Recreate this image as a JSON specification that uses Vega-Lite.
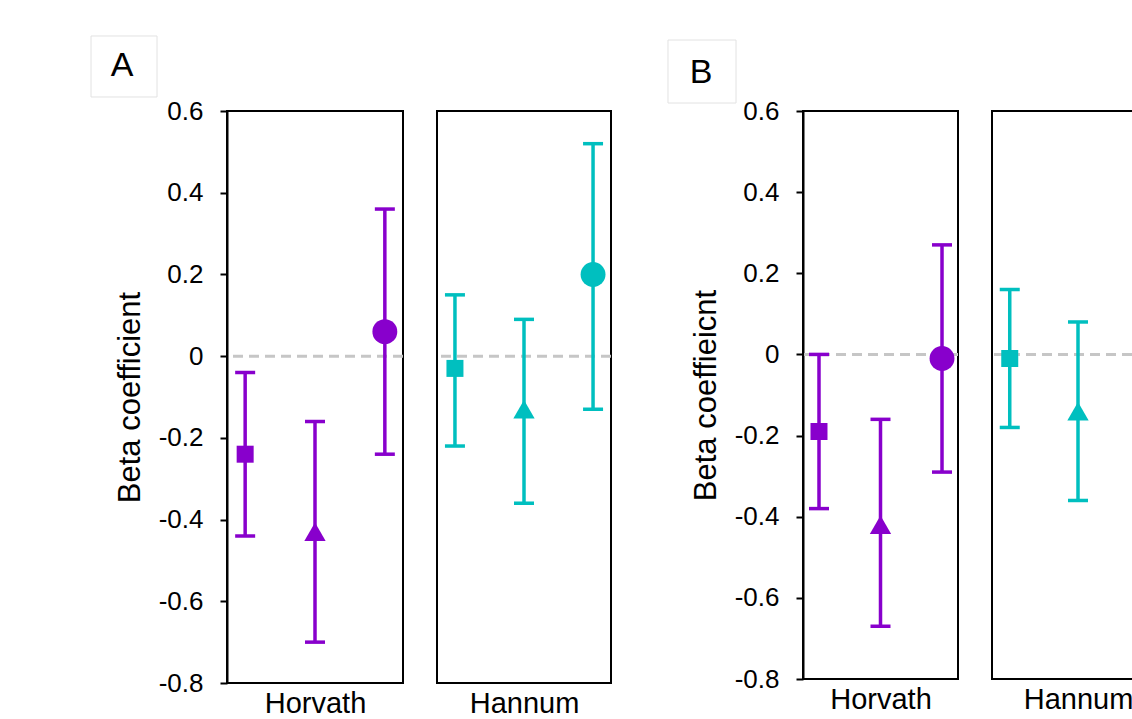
{
  "$schema": "https://vega.github.io/schema/vega-lite/v6.json",
  "background": "white",
  "padding": {"left": 89, "top": 34, "right": 0, "bottom": 0},
  "bounds": "flush",
  "spacing": 34,
  "datasets": {
    "A": [
      {"clock": "Horvath", "pos": 1, "shp": "sq", "est": -0.24, "lo": -0.44, "hi": -0.04},
      {"clock": "Horvath", "pos": 2, "shp": "tri", "est": -0.43, "lo": -0.70, "hi": -0.16},
      {"clock": "Horvath", "pos": 3, "shp": "circ", "est": 0.06, "lo": -0.24, "hi": 0.36},
      {"clock": "Hannum", "pos": 1, "shp": "sq", "est": -0.03, "lo": -0.22, "hi": 0.15},
      {"clock": "Hannum", "pos": 2, "shp": "tri", "est": -0.13, "lo": -0.36, "hi": 0.09},
      {"clock": "Hannum", "pos": 3, "shp": "circ", "est": 0.20, "lo": -0.13, "hi": 0.52}
    ],
    "B": [
      {"clock": "Horvath", "pos": 1, "shp": "sq", "est": -0.19, "lo": -0.38, "hi": 0.0},
      {"clock": "Horvath", "pos": 2, "shp": "tri", "est": -0.42, "lo": -0.67, "hi": -0.16},
      {"clock": "Horvath", "pos": 3, "shp": "circ", "est": -0.01, "lo": -0.29, "hi": 0.27},
      {"clock": "Hannum", "pos": 1, "shp": "sq", "est": -0.01, "lo": -0.18, "hi": 0.16},
      {"clock": "Hannum", "pos": 2, "shp": "tri", "est": -0.14, "lo": -0.36, "hi": 0.08}
    ],
    "one": [{}]
  },
  "hconcat": [
    {
      "width": 176, "height": 572,
      "layer": [
        {"data": {"name": "one"}, "mark": {"type": "rule", "color": "#c6c6c6", "strokeWidth": 3, "strokeDash": [10, 6]},
         "encoding": {"y": {"datum": 0, "type": "quantitative", "scale": {"domain": [-0.8, 0.6], "nice": false, "zero": false}, "title": "Beta coefficient", "axis": {"values": [-0.8, -0.6, -0.4, -0.2, 0, 0.2, 0.4, 0.6], "labelExpr": "toString(datum.value)"}}}},
        {"data": {"name": "A"}, "transform": [{"filter": "datum.clock == 'Horvath'"}],
         "layer": [
           {"mark": {"type": "rule", "color": "#8800CC", "strokeWidth": 3.5},
            "encoding": {"x": {"field": "pos", "type": "quantitative", "scale": {"domain": [0.74, 3.26], "nice": false, "zero": false}, "title": "Horvath"},
                         "y": {"field": "lo", "type": "quantitative", "title": "Beta coefficient", "axis": {"values": [-0.8, -0.6, -0.4, -0.2, 0, 0.2, 0.4, 0.6], "labelExpr": "toString(datum.value)"}}, "y2": {"field": "hi"}}},
           {"mark": {"type": "tick", "orient": "horizontal", "color": "#8800CC", "size": 20, "thickness": 3.5, "opacity": 1},
            "encoding": {"x": {"field": "pos", "type": "quantitative", "title": "Horvath"}, "y": {"field": "lo", "type": "quantitative", "title": "Beta coefficient"}}},
           {"mark": {"type": "tick", "orient": "horizontal", "color": "#8800CC", "size": 20, "thickness": 3.5, "opacity": 1},
            "encoding": {"x": {"field": "pos", "type": "quantitative", "title": "Horvath"}, "y": {"field": "hi", "type": "quantitative", "title": "Beta coefficient"}}},
           {"mark": {"type": "point", "filled": true, "opacity": 1, "color": "#8800CC"},
            "encoding": {"x": {"field": "pos", "type": "quantitative", "title": "Horvath"}, "y": {"field": "est", "type": "quantitative", "title": "Beta coefficient"},
                         "shape": {"field": "shp", "type": "nominal", "scale": {"domain": ["sq", "tri", "circ"], "range": ["square", "triangle-up", "circle"]}, "legend": null},
                         "size": {"field": "shp", "type": "ordinal", "scale": {"domain": ["sq", "tri", "circ"], "range": [289, 620, 484]}, "legend": null}}}
         ]},
        {"data": {"name": "one"}, "mark": {"type": "rect", "fill": "white", "stroke": "#e2e2e2", "strokeWidth": 1, "clip": false},
         "encoding": {"x": {"datum": -1.207, "type": "quantitative", "title": "Horvath"}, "x2": {"datum": -0.262},
                      "y": {"datum": 0.6343, "type": "quantitative", "title": "Beta coefficient"}, "y2": {"datum": 0.7836}}},
        {"data": {"name": "one"}, "mark": {"type": "text", "fontSize": 34, "color": "black", "align": "center", "baseline": "middle", "clip": false},
         "encoding": {"x": {"datum": -0.763, "type": "quantitative", "title": "Horvath"}, "y": {"datum": 0.7101, "type": "quantitative", "title": "Beta coefficient"}, "text": {"value": "A"}}}
      ]
    },
    {
      "width": 174, "height": 572,
      "layer": [
        {"data": {"name": "one"}, "mark": {"type": "rule", "color": "#c6c6c6", "strokeWidth": 3, "strokeDash": [10, 6]},
         "encoding": {"y": {"datum": 0, "type": "quantitative", "scale": {"domain": [-0.8, 0.6], "nice": false, "zero": false}, "axis": null}}},
        {"data": {"name": "A"}, "transform": [{"filter": "datum.clock == 'Hannum'"}],
         "layer": [
           {"mark": {"type": "rule", "color": "#00BFBF", "strokeWidth": 3.5},
            "encoding": {"x": {"field": "pos", "type": "quantitative", "scale": {"domain": [0.74, 3.26], "nice": false, "zero": false}, "title": "Hannum"},
                         "y": {"field": "lo", "type": "quantitative", "axis": null}, "y2": {"field": "hi"}}},
           {"mark": {"type": "tick", "orient": "horizontal", "color": "#00BFBF", "size": 20, "thickness": 3.5, "opacity": 1},
            "encoding": {"x": {"field": "pos", "type": "quantitative", "title": "Hannum"}, "y": {"field": "lo", "type": "quantitative", "axis": null}}},
           {"mark": {"type": "tick", "orient": "horizontal", "color": "#00BFBF", "size": 20, "thickness": 3.5, "opacity": 1},
            "encoding": {"x": {"field": "pos", "type": "quantitative", "title": "Hannum"}, "y": {"field": "hi", "type": "quantitative", "axis": null}}},
           {"mark": {"type": "point", "filled": true, "opacity": 1, "color": "#00BFBF"},
            "encoding": {"x": {"field": "pos", "type": "quantitative", "title": "Hannum"}, "y": {"field": "est", "type": "quantitative", "axis": null},
                         "shape": {"field": "shp", "type": "nominal", "scale": {"domain": ["sq", "tri", "circ"], "range": ["square", "triangle-up", "circle"]}, "legend": null},
                         "size": {"field": "shp", "type": "ordinal", "scale": {"domain": ["sq", "tri", "circ"], "range": [289, 620, 484]}, "legend": null}}}
         ]}
      ]
    },
    {
      "width": 124, "height": 572, "view": {"stroke": null},
      "data": {"values": []},
      "mark": "point"
    },
    {
      "width": 155, "height": 568,
      "layer": [
        {"data": {"name": "one"}, "mark": {"type": "rule", "color": "#c6c6c6", "strokeWidth": 3, "strokeDash": [10, 6]},
         "encoding": {"y": {"datum": 0, "type": "quantitative", "scale": {"domain": [-0.8, 0.6], "nice": false, "zero": false}, "title": "Beta coeffieicnt", "axis": {"values": [-0.8, -0.6, -0.4, -0.2, 0, 0.2, 0.4, 0.6], "labelExpr": "toString(datum.value)"}}}},
        {"data": {"name": "B"}, "transform": [{"filter": "datum.clock == 'Horvath'"}],
         "layer": [
           {"mark": {"type": "rule", "color": "#8800CC", "strokeWidth": 3.5},
            "encoding": {"x": {"field": "pos", "type": "quantitative", "scale": {"domain": [0.74, 3.26], "nice": false, "zero": false}, "title": "Horvath"},
                         "y": {"field": "lo", "type": "quantitative", "title": "Beta coeffieicnt", "axis": {"values": [-0.8, -0.6, -0.4, -0.2, 0, 0.2, 0.4, 0.6], "labelExpr": "toString(datum.value)"}}, "y2": {"field": "hi"}}},
           {"mark": {"type": "tick", "orient": "horizontal", "color": "#8800CC", "size": 20, "thickness": 3.5, "opacity": 1},
            "encoding": {"x": {"field": "pos", "type": "quantitative", "title": "Horvath"}, "y": {"field": "lo", "type": "quantitative", "title": "Beta coeffieicnt"}}},
           {"mark": {"type": "tick", "orient": "horizontal", "color": "#8800CC", "size": 20, "thickness": 3.5, "opacity": 1},
            "encoding": {"x": {"field": "pos", "type": "quantitative", "title": "Horvath"}, "y": {"field": "hi", "type": "quantitative", "title": "Beta coeffieicnt"}}},
           {"mark": {"type": "point", "filled": true, "opacity": 1, "color": "#8800CC"},
            "encoding": {"x": {"field": "pos", "type": "quantitative", "title": "Horvath"}, "y": {"field": "est", "type": "quantitative", "title": "Beta coeffieicnt"},
                         "shape": {"field": "shp", "type": "nominal", "scale": {"domain": ["sq", "tri", "circ"], "range": ["square", "triangle-up", "circle"]}, "legend": null},
                         "size": {"field": "shp", "type": "ordinal", "scale": {"domain": ["sq", "tri", "circ"], "range": [289, 620, 484]}, "legend": null}}}
         ]},
        {"data": {"name": "one"}, "mark": {"type": "rect", "fill": "white", "stroke": "#e2e2e2", "strokeWidth": 1, "clip": false},
         "encoding": {"x": {"datum": -1.455, "type": "quantitative", "title": "Horvath"}, "x2": {"datum": -0.349},
                      "y": {"datum": 0.6197, "type": "quantitative", "title": "Beta coeffieicnt"}, "y2": {"datum": 0.775}}},
        {"data": {"name": "one"}, "mark": {"type": "text", "fontSize": 34, "color": "black", "align": "center", "baseline": "middle", "clip": false},
         "encoding": {"x": {"datum": -0.918, "type": "quantitative", "title": "Horvath"}, "y": {"datum": 0.6937, "type": "quantitative", "title": "Beta coeffieicnt"}, "text": {"value": "B"}}}
      ]
    },
    {
      "width": 172, "height": 568,
      "layer": [
        {"data": {"name": "one"}, "mark": {"type": "rule", "color": "#c6c6c6", "strokeWidth": 3, "strokeDash": [10, 6]},
         "encoding": {"y": {"datum": 0, "type": "quantitative", "scale": {"domain": [-0.8, 0.6], "nice": false, "zero": false}, "axis": null}}},
        {"data": {"name": "B"}, "transform": [{"filter": "datum.clock == 'Hannum'"}],
         "layer": [
           {"mark": {"type": "rule", "color": "#00BFBF", "strokeWidth": 3.5},
            "encoding": {"x": {"field": "pos", "type": "quantitative", "scale": {"domain": [0.74, 3.26], "nice": false, "zero": false}, "title": "Hannum"},
                         "y": {"field": "lo", "type": "quantitative", "axis": null}, "y2": {"field": "hi"}}},
           {"mark": {"type": "tick", "orient": "horizontal", "color": "#00BFBF", "size": 20, "thickness": 3.5, "opacity": 1},
            "encoding": {"x": {"field": "pos", "type": "quantitative", "title": "Hannum"}, "y": {"field": "lo", "type": "quantitative", "axis": null}}},
           {"mark": {"type": "tick", "orient": "horizontal", "color": "#00BFBF", "size": 20, "thickness": 3.5, "opacity": 1},
            "encoding": {"x": {"field": "pos", "type": "quantitative", "title": "Hannum"}, "y": {"field": "hi", "type": "quantitative", "axis": null}}},
           {"mark": {"type": "point", "filled": true, "opacity": 1, "color": "#00BFBF"},
            "encoding": {"x": {"field": "pos", "type": "quantitative", "title": "Hannum"}, "y": {"field": "est", "type": "quantitative", "axis": null},
                         "shape": {"field": "shp", "type": "nominal", "scale": {"domain": ["sq", "tri", "circ"], "range": ["square", "triangle-up", "circle"]}, "legend": null},
                         "size": {"field": "shp", "type": "ordinal", "scale": {"domain": ["sq", "tri", "circ"], "range": [289, 620, 484]}, "legend": null}}}
         ]}
      ]
    }
  ],
  "config": {
    "font": "Liberation Sans",
    "view": {"stroke": "black", "strokeWidth": 2},
    "axisX": {"labels": false, "ticks": false, "domain": false, "grid": false, "titleFontSize": 29, "titleFontWeight": "normal", "titleColor": "black", "titlePadding": 6, "titleFont": "Liberation Sans"},
    "axisY": {"grid": false, "domain": true, "domainColor": "black", "domainWidth": 2, "ticks": true, "tickColor": "black", "tickWidth": 2, "tickSize": 7, "labelFontSize": 26, "labelColor": "black", "labelPadding": 17, "labelFont": "Liberation Sans", "titleFontSize": 31, "titleFontWeight": "normal", "titleColor": "black", "titlePadding": 12, "titleFont": "Liberation Sans"}
  }
}
